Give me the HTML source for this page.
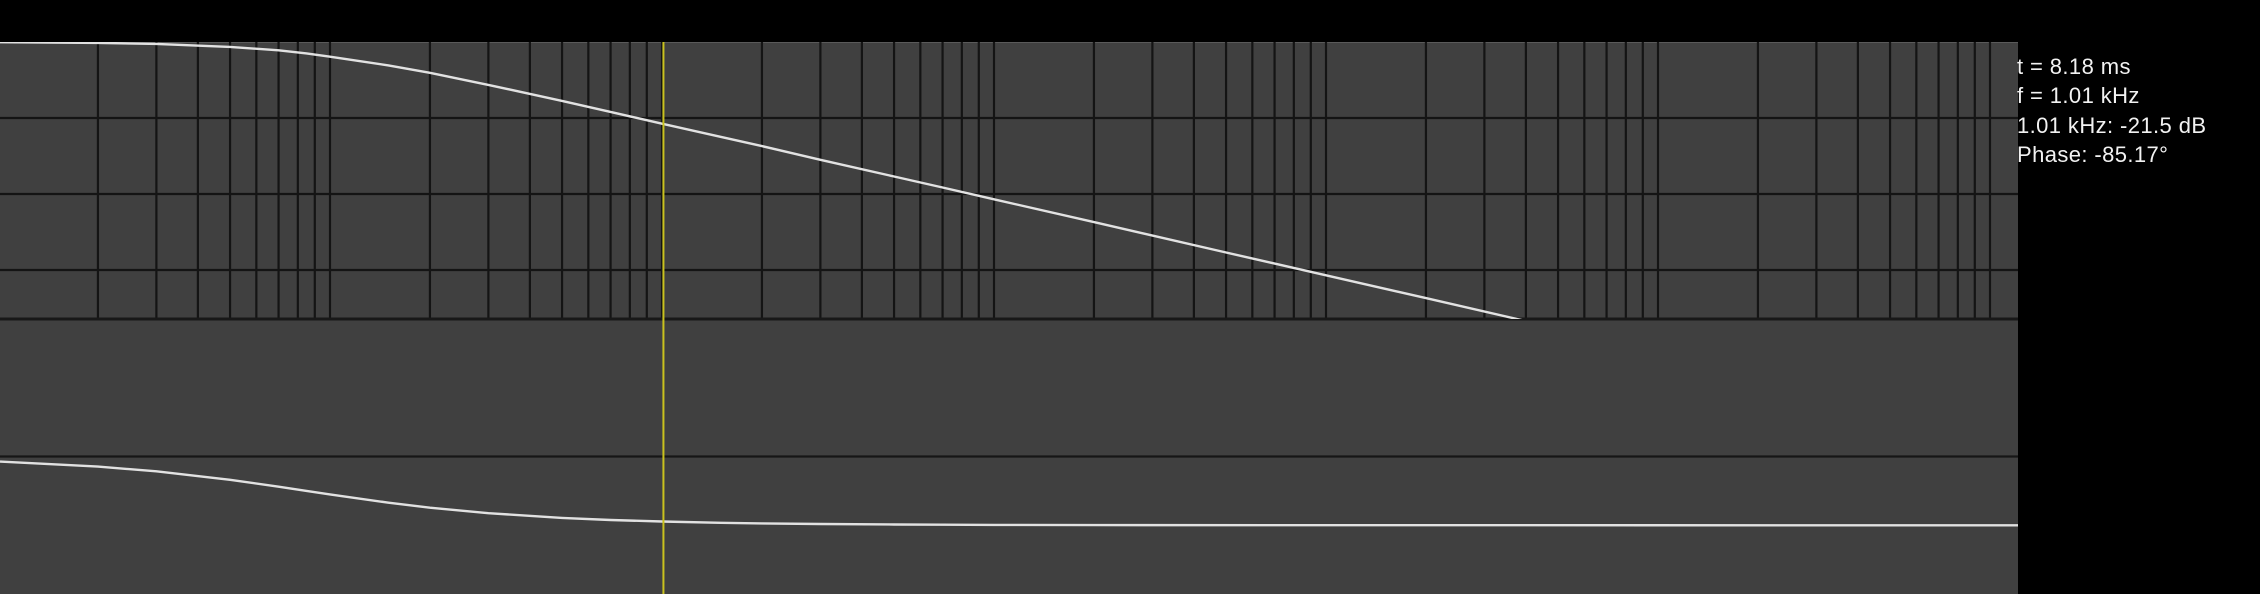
<!DOCTYPE html>
<html><head><meta charset="utf-8"><style>
html,body{margin:0;padding:0;background:#000;width:2260px;height:594px;overflow:hidden}
svg{display:block}
text{font-family:"Liberation Sans",sans-serif;font-size:22px;fill:#f2f2f2;letter-spacing:0.4px}
</style></head><body>
<svg id="chart" width="2260" height="594" viewBox="0 0 2260 594" xmlns="http://www.w3.org/2000/svg">
<defs><clipPath id="magclip"><rect x="0" y="42" width="2018" height="277"/></clipPath>
<clipPath id="phclip"><rect x="0" y="319" width="2018" height="275"/></clipPath></defs>
<rect x="0" y="42" width="2018" height="277" fill="#404040"/>
<rect x="0" y="319" width="2018" height="275" fill="#404040"/>
<line x1="0" y1="42.5" x2="2018" y2="42.5" stroke="#5a5a5a" stroke-width="1"/>
<g id="grid"></g>
<g id="series"></g>
<line id="cursor" x1="0" y1="42" x2="0" y2="594" stroke="#c9c21e" stroke-width="2"/>
<g>
<text x="2017" y="74">t = 8.18 ms</text>
<text x="2017" y="103">f = 1.01 kHz</text>
<text x="2017" y="133">1.01 kHz: -21.5 dB</text>
<text x="2017" y="162">Phase: -85.17°</text>
</g>
</svg>
<script>
const magFreqs = [10,20,30,50,70,85,100,150,200,300,500,700,1000,1500,2000,3000,5000,7000,10000,20000,50000,100000,200000,376000,500000];
const magDb = [-0.06,-0.23,-0.51,-1.30,-2.18,-3.01,-3.86,-6.16,-8.11,-11.3,-15.5,-18.4,-21.5,-24.95,-27.4,-31.0,-35.4,-38.3,-41.4,-47.4,-55.4,-61.4,-67.4,-72.9,-75.4];
const phFreqs = [10,20,30,50,70,85,100,150,200,300,500,700,1000,1500,2000,3000,5000,7000,10000,20000,100000,13000000];
const phDeg = [-6.7,-13.2,-19.4,-30.5,-39.5,-45,-49.6,-60.5,-67.0,-74.2,-80.4,-83.1,-85.1,-86.8,-87.6,-88.4,-89.0,-89.3,-89.5,-89.8,-89.95,-90];
const dbTicks = [-20,-40,-60];
const phTicks = [0];
const cursorFreq = 1010;

const NS = "http://www.w3.org/2000/svg";
function xOf(f){ return 332*(Math.log10(f)-1)-2; }
function yMag(db){ return 42 - db*3.8; }
function yPh(d){ return 456.5 - d*(275/360); }
function mk(tag, attrs, parent){ const e=document.createElementNS(NS,tag); for(const k in attrs) e.setAttribute(k,attrs[k]); parent.appendChild(e); return e; }

const grid = document.getElementById('grid');
for(let dec=10; dec<=1e7; dec*=10){
  for(let m=(dec===10?2:1); m<=9; m++){
    const f = dec*m; const x = xOf(f);
    if(x>2016) continue;
    const l = mk('line',{x1:x,y1:42,x2:x,y2:319,stroke:'#141414','stroke-width':2.2},grid);
    
    
  }
}
dbTicks.forEach(d=>{
  const y=yMag(d);
  const l = mk('line',{x1:0,y1:y,x2:2018,y2:y,stroke:'#141414','stroke-width':2.2},grid);
  
  
});
const b = mk('line',{x1:0,y1:319,x2:2018,y2:319,stroke:'#181818','stroke-width':3},grid);


phTicks.forEach(d=>{
  const y=yPh(d);
  const l = mk('line',{x1:0,y1:y,x2:2018,y2:y,stroke:'#161616','stroke-width':2.2},grid);
  
  
});

const series = document.getElementById('series');
let d1 = magFreqs.map((f,i)=>(i?'L':'M')+Math.max(0,xOf(f)).toFixed(1)+','+yMag(magDb[i]).toFixed(1)).join(' ');
const mag = mk('path',{d:d1,fill:'none',stroke:'#e2e2e2','stroke-width':2.4,'clip-path':'url(#magclip)'},series);


let d2 = phFreqs.map((f,i)=>(i?'L':'M')+Math.max(0,xOf(f)).toFixed(1)+','+yPh(phDeg[i]).toFixed(1)).join(' ');
const ph = mk('path',{d:d2,fill:'none',stroke:'#e2e2e2','stroke-width':2.4,'clip-path':'url(#phclip)'},series);



const c = document.getElementById('cursor');
c.setAttribute('x1', xOf(cursorFreq)); c.setAttribute('x2', xOf(cursorFreq));
</script>
</body></html>
